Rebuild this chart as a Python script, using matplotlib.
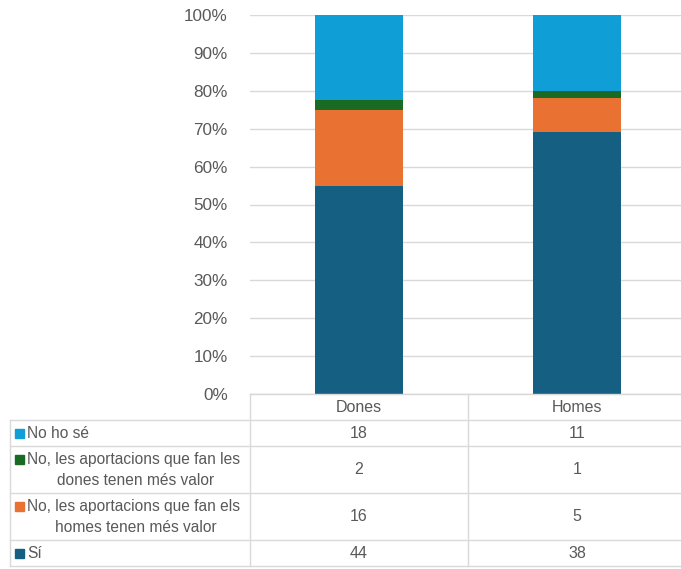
import numpy as np
import matplotlib.pyplot as plt
from matplotlib.ticker import PercentFormatter

plt.rcParams['font.family'] = ['Liberation Sans', 'DejaVu Sans']

# Respostes per grup
groups = ['Dones', 'Homes']
series = ['Sí',
          'No, les aportacions que fan els homes tenen més valor',
          'No, les aportacions que fan les dones tenen més valor',
          'No ho sé']
table_labels = {
    'Sí': ['Sí'],
    'No, les aportacions que fan els homes tenen més valor': ['No, les aportacions que fan els', 'homes tenen més valor'],
    'No, les aportacions que fan les dones tenen més valor': ['No, les aportacions que fan les', 'dones tenen més valor'],
    'No ho sé': ['No ho sé'],
}
si = [44, 38]
no_homes = [16, 5]
no_dones = [2, 1]
no_se = [18, 11]
values = [si, no_homes, no_dones, no_se]
colors = ['#156082', '#E97132', '#196B24', '#0F9ED5']

W, H = 681, 569
fig = plt.figure(figsize=(W / 100, H / 100), dpi=100)
grey = '#595959'
linec = '#D9D9D9'

# plot area in pixel coords
x0, x1, ytop, ybot = 250, 686, 15, 394
ax = fig.add_axes([x0 / W, 1 - ybot / H, (x1 - x0) / W, (ybot - ytop) / H])
data = np.array(values, dtype=float)
pct = data / data.sum(axis=0)
bottom = np.zeros(len(groups))
xpos = np.arange(len(groups))
for row, c in zip(pct, colors):
    ax.bar(xpos, row, bottom=bottom, width=0.4, color=c, zorder=3)
    bottom += row
ax.set_xlim(-0.5, 1.5)
ax.set_ylim(0, 1)
ax.set_yticks(np.arange(0, 1.01, 0.1))
ax.yaxis.set_major_formatter(PercentFormatter(1.0, decimals=0))
ax.tick_params(axis='y', length=0, pad=16, labelsize=12.3, labelcolor=grey)
ax.set_xticks([])
ax.grid(axis='y', color=linec, linewidth=1, zorder=0)
for s in ['top', 'right', 'left']:
    ax.spines[s].set_visible(False)
ax.spines['bottom'].set_color(linec)

# data table drawn underneath in pixel coords
tb = fig.add_axes([0, 0, 1, 1], facecolor='none')
tb.set_xlim(0, W)
tb.set_ylim(H, 0)
tb.axis('off')
rows_y = [420, 446, 493, 540, 566]
col_x = [10, 250, 468, 686]
tb.plot([250, 686], [394, 394], color=linec, lw=1)
for y in rows_y:
    tb.plot([10, 686], [y, y], color=linec, lw=1)
tb.plot([10, 10], [420, 566], color=linec, lw=1)
for x in col_x[1:]:
    tb.plot([x, x], [394, 566], color=linec, lw=1)

centers = [359, 577]
fs = 11.5
fs_lab = 11.2
for g, cx in zip(groups, centers):
    tb.text(cx, 407, g, ha='center', va='center', fontsize=fs, color=grey)

# table rows go top to bottom in reverse stacking order
order = [3, 2, 1, 0]
for r, idx in enumerate(order):
    ya, yb = rows_y[r], rows_y[r + 1]
    ym = (ya + yb) / 2
    lines = table_labels[series[idx]]
    tb.add_patch(plt.Rectangle((15, ya + 13 - 4.5), 9, 9, color=colors[idx]))
    tb.text(27, ya + 13, lines[0], ha='left', va='center', fontsize=fs_lab, color=grey)
    if len(lines) > 1:
        tb.text(136, ya + 34, lines[1], ha='center', va='center', fontsize=fs_lab, color=grey)
    for v, cx in zip(values[idx], centers):
        tb.text(cx, ym, str(v), ha='center', va='center', fontsize=fs, color=grey)

fig.savefig('out.png', dpi=100)
